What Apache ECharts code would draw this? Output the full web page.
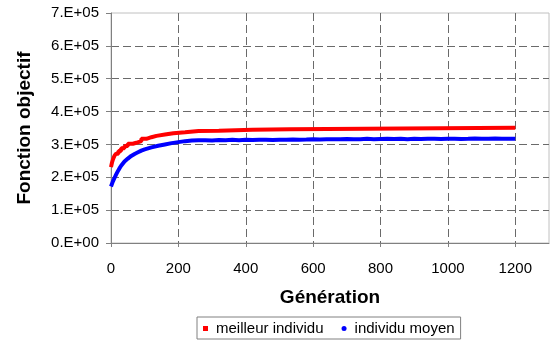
<!DOCTYPE html>
<html>
<head>
<meta charset="utf-8">
<script src="https://cdn.jsdelivr.net/npm/echarts@6/dist/echarts.min.js"></script>
<style>
  html, body { margin: 0; padding: 0; background: #fff; }
  #chart { width: 551px; height: 349px; }
</style>
</head>
<body>
<div id="chart"></div>
<script>
// best individual: generation where the value changes, and the new value
const bestGen = [0, 3, 6, 10, 15, 22, 30, 40, 50, 65, 75, 90, 105, 120, 135, 160, 185, 220, 260, 320, 420, 530, 1200];
const bestVal = [231000, 245000, 255000, 265000, 272000, 280000, 288000, 295000, 302000, 305000, 310000, 317000,
                 322000, 326000, 330000, 334000, 337000, 341000, 342000, 345000, 346000, 351000, 351000];

// mean individual
const meanGen = [0, 5, 10, 15, 20, 25, 30, 40, 50, 60, 70, 80, 90, 100, 120, 140, 160, 180, 200, 220, 240,
                 260, 280, 300, 320, 340, 360, 380, 400, 420, 440, 460, 480, 500, 520, 540, 560, 580, 600,
                 620, 640, 660, 680, 700, 720, 740, 760, 780, 800, 820, 840, 860, 880, 900, 920, 940, 960,
                 980, 1000, 1020, 1040, 1060, 1080, 1100, 1120, 1140, 1160, 1180, 1200];
const meanVal = [172000, 186000, 197000, 208000, 218000, 227000, 235000, 248000, 257000, 265000, 271000, 276000,
                 281000, 285000, 291000, 296000, 300000, 304000, 307000, 310000, 312000,
                 312500, 313000, 312000, 313500, 313000, 314000, 313000, 314000, 313500, 314500, 314000, 313500,
                 314500, 314000, 315000, 314500, 315000, 316000, 315000, 316000, 315500, 316000, 316500, 315500,
                 316000, 317000, 316000, 316500, 317000, 316500, 317500, 316000, 317000, 316500, 317500, 317000,
                 316500, 317000, 317500, 316500, 317000, 318000, 317000, 317500, 318000, 317000, 317500, 317000];

const seriesNames = ['meilleur individu', 'individu moyen'];

const font = 'Liberation Sans';
const gridColor = '#6a6a6a';
// first and last split lines sit on the axis / plot border, keep them hidden
const splitColors = ['rgba(0,0,0,0)', gridColor, gridColor, gridColor, gridColor, gridColor, gridColor, 'rgba(0,0,0,0)'];

const chart = echarts.init(document.getElementById('chart'));

chart.setOption({
    animation: false,
    grid: {
        left: 111,
        right: 2,
        top: 13,
        bottom: 106,
        show: true,
        borderColor: '#c0c0c0',
        borderWidth: 1
    },
    legend: {
        left: 197,
        top: 317,
        orient: 'horizontal',
        itemWidth: 5,
        itemHeight: 5,
        itemGap: 18,
        padding: [4, 6, 3, 6],
        borderColor: '#808080',
        borderWidth: 1,
        textStyle: { fontFamily: font, fontSize: 15, color: '#000', padding: [0, 0, 0, 3] },
        data: [
            { name: seriesNames[0], icon: 'rect' },
            { name: seriesNames[1], icon: 'circle' }
        ]
    },
    xAxis: {
        type: 'value',
        min: 0,
        max: 1300,
        interval: 200,
        name: 'Génération',
        nameLocation: 'middle',
        nameGap: 45,
        nameTextStyle: { fontFamily: font, fontSize: 19, fontWeight: 'bold', color: '#000' },
        axisLine: { lineStyle: { color: '#808080' } },
        axisTick: { length: 4, lineStyle: { color: '#808080' } },
        axisLabel: {
            fontFamily: font, fontSize: 15, color: '#000', margin: 18,
            showMaxLabel: false,
            formatter: function (v) { return String(v); }
        },
        splitLine: {
            show: true,
            lineStyle: { color: splitColors, type: [8, 4] }
        }
    },
    yAxis: {
        type: 'value',
        min: 0,
        max: 700000,
        interval: 100000,
        name: 'Fonction objectif',
        nameLocation: 'middle',
        nameGap: 77,
        nameTextStyle: { fontFamily: font, fontSize: 19, fontWeight: 'bold', color: '#000' },
        axisLine: { show: true, lineStyle: { color: '#808080' } },
        axisTick: { show: true, length: 5, lineStyle: { color: '#808080' } },
        axisLabel: {
            fontFamily: font, fontSize: 15, color: '#000', margin: 12,
            formatter: function (v) {
                return v === 0 ? '0.E+00' : (v / 100000) + '.E+05';
            }
        },
        splitLine: {
            show: true,
            lineStyle: { color: splitColors, type: [8, 4] }
        }
    },
    series: [
        {
            name: seriesNames[0],
            type: 'line',
            step: 'end',
            showSymbol: false,
            color: '#ff0000',
            lineStyle: { width: 4, color: '#ff0000' },
            data: bestGen.map((g, i) => [g, bestVal[i]])
        },
        {
            name: seriesNames[1],
            type: 'line',
            showSymbol: false,
            color: '#0000ff',
            lineStyle: { width: 4, color: '#0000ff' },
            data: meanGen.map((g, i) => [g, meanVal[i]])
        }
    ]
});

window.addEventListener('resize', function () {
    chart.resize();
});
</script>
</body>
</html>
